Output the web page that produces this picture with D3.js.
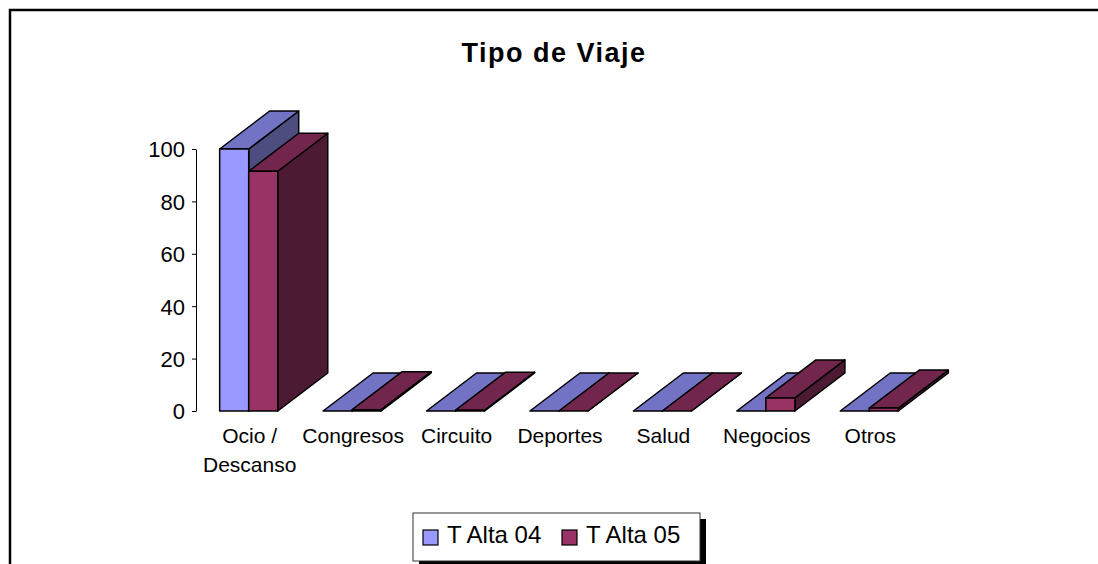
<!DOCTYPE html>
<html><head><meta charset="UTF-8">
<style type="text/css">
html, body { margin: 0; padding: 0; background: #fff; overflow: hidden; }
svg { display: block; }
svg text { font-family: "Liberation Sans", Arial, sans-serif; fill: #000; }
.title { font-size: 27px; font-weight: bold; letter-spacing: 1.5px; }
.axis text { font-size: 22px; }
.axis path, .axis line { stroke: #000; stroke-width: 1; }
.cat { font-size: 21px; }
.leg { font-size: 24px; }
.face { stroke: #000; stroke-width: 1.5; stroke-linejoin: round; }
</style>
<script src="https://cdn.jsdelivr.net/npm/d3@7/dist/d3.min.js"></script>
</head><body>
<div id="chart"></div>
<script>
// data
var categories = ["Ocio /\nDescanso", "Congresos", "Circuito", "Deportes", "Salud", "Negocios", "Otros"];
var series = ["T Alta 04", "T Alta 05"];
var alta04 = [100, 0, 0, 0, 0, 0, 0];
var alta05 = [91.5, 0.5, 0.3, 0, 0, 5, 1.1];
var yTicks = [0, 20, 40, 60, 80, 100];

// front / top / side shades per series
var colors = {
  "T Alta 04": ["#9999ff", "#7373c6", "#4d4d80"],
  "T Alta 05": ["#993366", "#73264d", "#4d1a33"]
};

var W = 1098, H = 564;
var depthX = 50, depthY = -38;

var svg = d3.select("#chart").append("svg")
    .attr("width", W).attr("height", H);

// outer chart border: only top and left edges are in frame
svg.append("path")
    .attr("d", "M10," + (H + 10) + "V10H" + (W + 10))
    .attr("fill", "none").attr("stroke", "#000").attr("stroke-width", 2.5);

svg.append("text").attr("class", "title")
    .attr("x", 554).attr("y", 62)
    .attr("text-anchor", "middle")
    .text("Tipo de Viaje");

var y = d3.scaleLinear().domain([0, 100]).range([411, 149]);
var x0 = d3.scaleBand().domain(categories).range([197, 921]);
var x1 = d3.scaleBand().domain(series).range([0, x0.bandwidth()]).paddingOuter(0.78);

// y axis
var yAxis = svg.append("g")
    .attr("class", "axis")
    .attr("transform", "translate(196,0)")
    .call(d3.axisLeft(y).tickValues(yTicks).tickSize(4).tickSizeOuter(0).tickPadding(7));
yAxis.selectAll("text").attr("dy", "0.36em");

// bars, left to right so right neighbours cover side faces
var rows = [];
categories.forEach(function(c, i) {
  rows.push({cat: c, s: series[0], v: alta04[i]});
  rows.push({cat: c, s: series[1], v: alta05[i]});
});

rows.forEach(function(d) {
  var xl = x0(d.cat) + x1(d.s), xr = xl + x1.bandwidth();
  var yt = y(d.v), yb = y(0);
  var g = svg.append("g");
  var col = colors[d.s];
  // side
  g.append("polygon").attr("class", "face").attr("fill", col[2])
    .attr("points", [[xr, yt], [xr + depthX, yt + depthY], [xr + depthX, yb + depthY], [xr, yb]].join(" "));
  // top
  g.append("polygon").attr("class", "face").attr("fill", col[1])
    .attr("points", [[xl, yt], [xl + depthX, yt + depthY], [xr + depthX, yt + depthY], [xr, yt]].join(" "));
  // front
  g.append("rect").attr("class", "face").attr("fill", col[0])
    .attr("x", xl).attr("y", yt).attr("width", xr - xl).attr("height", yb - yt);
});

// category labels
categories.forEach(function(c) {
  var cx = x0(c) + x0.bandwidth() / 2 + 1;
  var t = svg.append("text").attr("class", "cat")
      .attr("text-anchor", "middle")
      .attr("x", cx).attr("y", 443);
  c.split("\n").forEach(function(line, k) {
    t.append("tspan").attr("x", cx).attr("dy", k === 0 ? 0 : 29).text(line);
  });
});

// legend
var leg = svg.append("g");
leg.append("rect").attr("x", 419).attr("y", 519).attr("width", 287).attr("height", 50).attr("fill", "#000");
leg.append("rect").attr("x", 413).attr("y", 513).attr("width", 287).attr("height", 48)
    .attr("fill", "#fff").attr("stroke", "#333").attr("stroke-width", 1);
var legX = [423, 562];
series.forEach(function(s, i) {
  leg.append("rect").attr("x", legX[i]).attr("y", 530).attr("width", 15).attr("height", 15)
      .attr("fill", colors[s][0]).attr("stroke", "#000").attr("stroke-width", 1.2);
  leg.append("text").attr("class", "leg").attr("x", legX[i] + 24).attr("y", 543).text(s);
});
</script>
</body></html>
